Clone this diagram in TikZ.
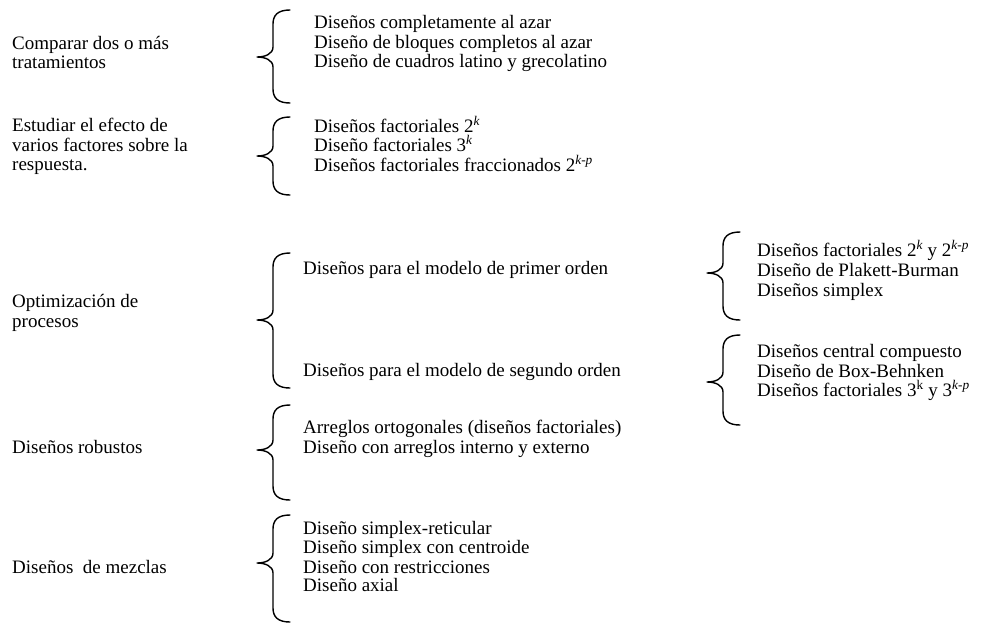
\documentclass[tikz,border=0pt]{standalone}
\usepackage{fontspec}
\setmainfont{Liberation Serif}
\newcommand\wbrace[4]{% x of tip, top, tip y, bottom
 \draw[brc] (#1+33,#2) .. controls (#1+21,#2) and (#1+16,#2+5) .. (#1+16,#2+14)
   -- (#1+16,#3-10) .. controls (#1+16,#3-3) and (#1+8,#3) .. (#1,#3)
   .. controls (#1+8,#3) and (#1+16,#3+3) .. (#1+16,#3+10)
   -- (#1+16,#4-14) .. controls (#1+16,#4-5) and (#1+21,#4) .. (#1+33,#4);}
\begin{document}
\begin{tikzpicture}[x=1pt,y=-1pt,
  txt/.style={anchor=base west,inner sep=0pt,font=\fontsize{19}{19}\selectfont},
  brc/.style={line width=1.4pt,line cap=round,line join=round}]
\useasboundingbox[fill=white] (0,0) rectangle (993,625);
% left labels
\node[txt] (l1a) at (12,49) {Comparar dos o más};
\node[txt] (l1b) at (12,68) {tratamientos};
\node[txt] (l2a) at (12,131) {Estudiar el efecto de};
\node[txt] (l2b) at (12,151) {varios factores sobre la};
\node[txt] (l2c) at (12,170) {respuesta.};
\node[txt] (l3a) at (12,307) {Optimización de};
\node[txt] (l3b) at (12,327) {procesos};
\node[txt] (l4a) at (12,453) {Diseños robustos};
\node[txt] (l5a) at (12,573) {Diseños\ \ de mezclas};
% braces, first level
\wbrace{257}{10}{57}{103}
\wbrace{257}{117}{156}{195}
\wbrace{257}{253}{320}{388}
\wbrace{257}{405}{450}{500}
\wbrace{257}{515}{563}{622}
% middle items
\node[txt] (m1a) at (314,28) {Diseños completamente al azar};
\node[txt] (m1b) at (314,48) {Diseño de bloques completos al azar};
\node[txt] (m1c) at (314,67) {Diseño de cuadros latino y grecolatino};
\node[txt] (m2a) at (314,132) {Diseños factoriales 2\textsuperscript{\itshape k}};
\node[txt] (m2b) at (314,151) {Diseño factoriales 3\textsuperscript{\itshape k}};
\node[txt] (m2c) at (314,171) {Diseños factoriales fraccionados 2\textsuperscript{\itshape k-p}};
\node[txt] (m3a) at (303,274) {Diseños para el modelo de primer orden};
\node[txt] (m3b) at (303,376) {Diseños para el modelo de segundo orden};
\node[txt] (m4a) at (303,433) {Arreglos ortogonales (diseños factoriales)};
\node[txt] (m4b) at (303,453) {Diseño con arreglos interno y externo};
\node[txt] (m5a) at (303,534) {Diseño simplex-reticular};
\node[txt] (m5b) at (303,553) {Diseño simplex con centroide};
\node[txt] (m5c) at (303,573) {Diseño con restricciones};
\node[txt] (m5d) at (303,591) {Diseño axial};
% braces, second level
\wbrace{707}{232}{273}{320}
\wbrace{707}{335}{382}{425}
% right items
\node[txt] (r1a) at (757,256) {Diseños factoriales 2\textsuperscript{\itshape k} y 2\textsuperscript{\itshape k-p}};
\node[txt] (r1b) at (757,276) {Diseño de Plakett-Burman};
\node[txt] (r1c) at (757,296) {Diseños simplex};
\node[txt] (r2a) at (757,357) {Diseños central compuesto};
\node[txt] (r2b) at (757,377) {Diseño de Box-Behnken};
\node[txt] (r2c) at (757,396) {Diseños factoriales 3\textsuperscript{k} y 3\textsuperscript{\itshape k-p}};
\end{tikzpicture}
\end{document}
